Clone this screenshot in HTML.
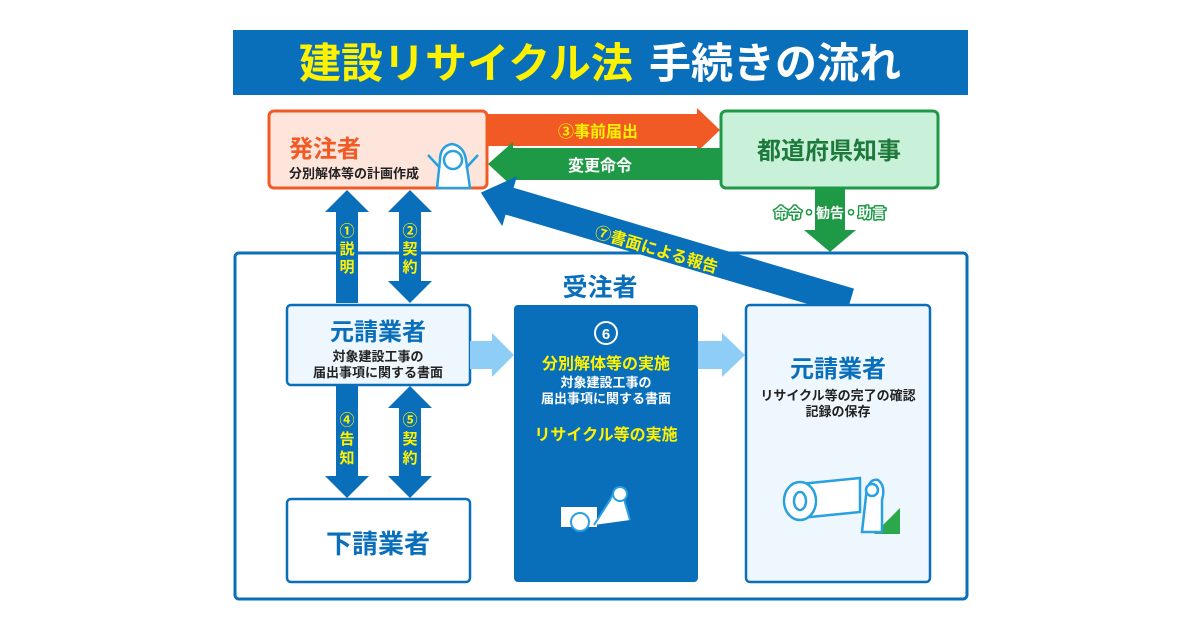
<!DOCTYPE html>
<html><head><meta charset="utf-8"><style>
html,body{margin:0;padding:0;background:#fff;}
svg{display:block;}
text{font-family:"Liberation Sans","Noto Sans CJK JP",sans-serif;font-weight:bold;}
</style></head><body>
<svg width="1201" height="631" viewBox="0 0 1201 631" xmlns="http://www.w3.org/2000/svg">
<!-- title -->
<rect x="233" y="30" width="735" height="65" fill="#0a6fba"/>
<text x="600" y="78" text-anchor="middle" font-size="42"><tspan fill="#fff200">建設リサイクル法</tspan><tspan fill="#fff" dx="16">手続きの流れ</tspan></text>

<!-- outer box -->
<rect x="235" y="253" width="732" height="346" rx="4" fill="#fff" stroke="#0a6fba" stroke-width="3"/>

<!-- orange arrow -->
<polygon points="487,114 697,114 697,108 720,130 697,152 697,146 487,146" fill="#f15a24"/>
<text x="598" y="137" text-anchor="middle" font-size="16" fill="#fff200">③事前届出</text>
<!-- green arrow -->
<polygon points="720,148 513,148 513,142 488,164 513,187 513,180 720,180" fill="#1e9a46"/>
<text x="600" y="171" text-anchor="middle" font-size="16" fill="#fff">変更命令</text>

<!-- green down arrow -->
<polygon points="815,188 845,188 845,230 856,230 830,252 804,230 815,230" fill="#1e9a46"/>
<text x="830" y="218" text-anchor="middle" font-size="14" fill="#fff" stroke="#1e9a46" stroke-width="3" stroke-linejoin="round" paint-order="stroke">命令・勧告・助言</text>

<!-- boxes top -->
<rect x="269" y="111" width="218" height="77" rx="5" fill="#fde5dc" stroke="#f15a24" stroke-width="3"/>
<text x="289" y="157" font-size="24" fill="#f15a24">発注者</text>
<text x="289" y="178" font-size="13" fill="#222">分別解体等の計画作成</text>
<g stroke="#29a0e0" stroke-width="2.5" fill="#fff">
<path d="M437,188 L440,160 Q440,146 452,144 Q464,146 466,160 L470,188Z"/>
<circle cx="453" cy="160" r="9"/>
<path d="M440,168 L428,155 M466,168 L478,155" fill="none"/>
</g>
<rect x="721" y="111" width="217" height="77" rx="5" fill="#c9f0d8" stroke="#1e9a46" stroke-width="3"/>
<text x="829" y="159" text-anchor="middle" font-size="24" fill="#1e7a3a">都道府県知事</text>

<!-- diagonal arrow 7 -->
<g transform="translate(850,302) rotate(196.5)">
<polygon points="0,-14 355,-14 355,-26 385,0 355,26 355,14 0,14" fill="#0a6fba"/>
</g>
<text transform="translate(655,255) rotate(16.5)" text-anchor="middle" font-size="16" fill="#fff200">⑦書面による報告</text>

<text x="600" y="296" text-anchor="middle" font-size="25" fill="#0a6fba">受注者</text>

<!-- vertical arrows top -->
<polygon points="336,303 336,212 325,212 347,190 369,212 358,212 358,303" fill="#0a6fba"/>
<polygon points="399,212 388,212 410,190 432,212 421,212 421,281 432,281 410,303 388,281 399,281" fill="#0a6fba"/>
<text x="347" y="236" text-anchor="middle" font-size="15" fill="#fff200">①</text>
<text x="347" y="254" text-anchor="middle" font-size="15" fill="#fff200">説</text>
<text x="347" y="272" text-anchor="middle" font-size="15" fill="#fff200">明</text>
<text x="410" y="236" text-anchor="middle" font-size="15" fill="#fff200">②</text>
<text x="410" y="254" text-anchor="middle" font-size="15" fill="#fff200">契</text>
<text x="410" y="272" text-anchor="middle" font-size="15" fill="#fff200">約</text>

<!-- vertical arrows bottom -->
<polygon points="336,385 358,385 358,476 369,476 347,498 325,476 336,476" fill="#0a6fba"/>
<polygon points="399,408 388,408 410,386 432,408 421,408 421,476 432,476 410,498 388,476 399,476" fill="#0a6fba"/>
<text x="347" y="425" text-anchor="middle" font-size="15" fill="#fff200">④</text>
<text x="347" y="444" text-anchor="middle" font-size="15" fill="#fff200">告</text>
<text x="347" y="463" text-anchor="middle" font-size="15" fill="#fff200">知</text>
<text x="410" y="425" text-anchor="middle" font-size="15" fill="#fff200">⑤</text>
<text x="410" y="444" text-anchor="middle" font-size="15" fill="#fff200">契</text>
<text x="410" y="463" text-anchor="middle" font-size="15" fill="#fff200">約</text>

<!-- left boxes -->
<rect x="287" y="305" width="183" height="80" rx="4" fill="#eef7fd" stroke="#0a6fba" stroke-width="2.5"/>
<text x="378" y="340" text-anchor="middle" font-size="24" fill="#0a6fba">元請業者</text>
<text x="378" y="361" text-anchor="middle" font-size="13" fill="#222">対象建設工事の</text>
<text x="378" y="377" text-anchor="middle" font-size="13" fill="#222">届出事項に関する書面</text>
<rect x="287" y="499" width="183" height="83" rx="4" fill="#fff" stroke="#0a6fba" stroke-width="2.5"/>
<text x="378" y="553" text-anchor="middle" font-size="26" fill="#0a6fba">下請業者</text>

<!-- light arrows -->
<polygon points="470,341 492,341 492,333 514,355 492,377 492,369 470,369" fill="#8ecdf5"/>
<polygon points="698,341 722,341 722,333 745,355 722,377 722,369 698,369" fill="#8ecdf5"/>

<!-- middle box -->
<rect x="514" y="305" width="184" height="277" rx="4" fill="#0a6fba"/>
<circle cx="606" cy="333" r="11" fill="none" stroke="#fff" stroke-width="2"/>
<text x="606" y="339" text-anchor="middle" font-size="15" fill="#fff">6</text>
<text x="606" y="369" text-anchor="middle" font-size="16" fill="#fff200">分別解体等の実施</text>
<text x="606" y="387" text-anchor="middle" font-size="13" fill="#fff">対象建設工事の</text>
<text x="606" y="403" text-anchor="middle" font-size="13" fill="#fff">届出事項に関する書面</text>
<text x="606" y="440" text-anchor="middle" font-size="16" fill="#fff200">リサイクル等の実施</text>
<g stroke="#fff" stroke-width="2" fill="#0a6fba">
<rect x="562" y="508" width="34" height="18" fill="#fff"/>
<circle cx="580" cy="522" r="9" fill="#fff" stroke="#29a0e0"/>
<path d="M594,525 L610,500 Q615,488 622,492 L630,520" fill="#fff" stroke="#29a0e0"/>
<circle cx="620" cy="494" r="7" fill="#fff" stroke="#29a0e0"/>
</g>

<!-- right box -->
<rect x="746" y="305" width="184" height="277" rx="4" fill="#eef7fd" stroke="#0a6fba" stroke-width="2.5"/>
<text x="838" y="377" text-anchor="middle" font-size="24" fill="#0a6fba">元請業者</text>
<text x="838" y="400" text-anchor="middle" font-size="13" fill="#222">リサイクル等の完了の確認</text>
<text x="838" y="416" text-anchor="middle" font-size="13" fill="#222">記録の保存</text>
<g stroke="#29a0e0" stroke-width="2.5" fill="#fff">
<polygon points="874,534 900,508 900,534" fill="#2aa84a" stroke="none"/>
<path d="M800,484 L860,478 L860,512 L800,518Z"/>
<ellipse cx="800" cy="501" rx="16" ry="19"/>
<ellipse cx="800" cy="501" rx="6" ry="9"/>
<path d="M862,532 L866,496 Q868,478 878,480 Q886,486 882,500 L882,532Z"/>
<circle cx="872" cy="490" r="6"/>
</g>
</svg>
</body></html>
